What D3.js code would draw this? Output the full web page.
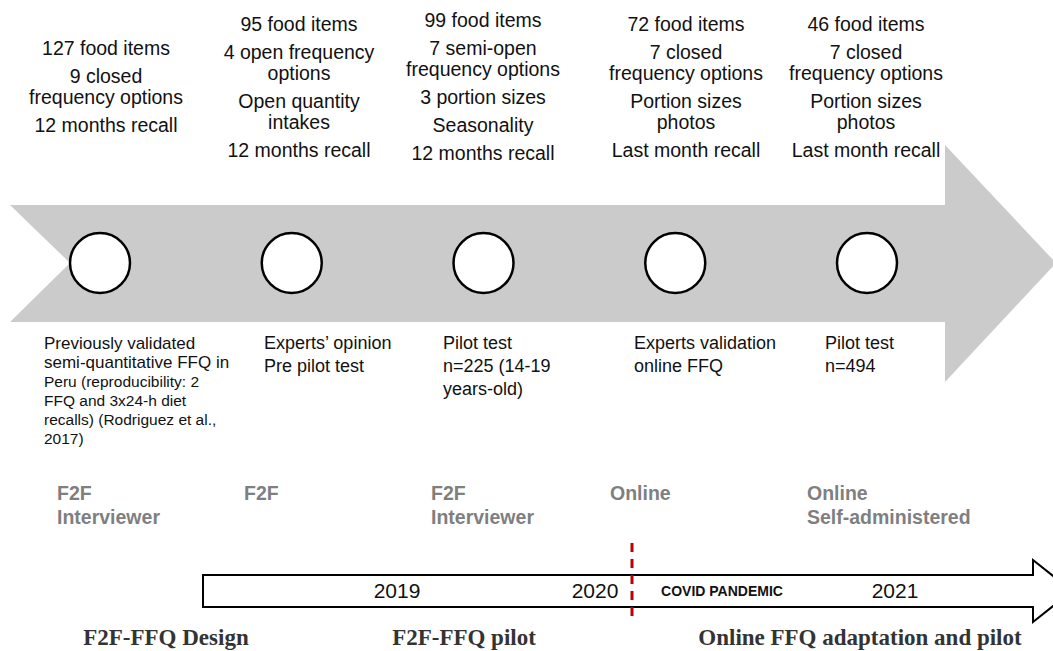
<!DOCTYPE html>
<html lang="en">
<head>
<meta charset="UTF-8">
<title>FFQ development timeline</title>
<script src="https://d3js.org/d3.v7.min.js"></script>
<style>
  body { margin: 0; background: #fff; }
  text { font-family: "Liberation Sans", Arial, sans-serif; }
</style>
</head>
<body>
<div id="chart"></div>
<script>
// ---- data ----
const stages = ["F2F design", "Expert review", "F2F pilot", "Online validation", "Online pilot"];

const topNotes = [
  [["127 food items"], ["9 closed", "frequency options"], ["12 months recall"]],
  [["95 food items"], ["4 open frequency", "options"], ["Open quantity", "intakes"], ["12 months recall"]],
  [["99 food items"], ["7 semi-open", "frequency options"], ["3 portion sizes"], ["Seasonality"], ["12 months recall"]],
  [["72 food items"], ["7 closed", "frequency options"], ["Portion sizes", "photos"], ["Last month recall"]],
  [["46 food items"], ["7 closed", "frequency options"], ["Portion sizes", "photos"], ["Last month recall"]]
];

const activities = [
  ["Previously validated", "semi-quantitative FFQ in", "Peru (reproducibility: 2", "FFQ and 3x24-h diet", "recalls) (Rodriguez et al.,", "2017)"],
  ["Experts\u2019 opinion", "Pre pilot test"],
  ["Pilot test", "n=225 (14-19", "years-old)"],
  ["Experts validation", "online FFQ"],
  ["Pilot test", "n=494"]
];

const modes = [
  ["F2F", "Interviewer"],
  ["F2F"],
  ["F2F", "Interviewer"],
  ["Online"],
  ["Online", "Self-administered"]
];

const timeLabels = ["2019", "2020", "COVID PANDEMIC", "2021"];
const phases = ["F2F-FFQ Design", "F2F-FFQ pilot", "Online FFQ adaptation and pilot"];

// ---- layout ----
const W = 1053, H = 651;
const svg = d3.select("#chart").append("svg")
  .attr("width", W).attr("height", H);

const x = d3.scalePoint().domain(stages).range([100, 867]);
const noteX = d3.scaleOrdinal().domain(stages).range([106, 299, 483, 686, 866]);
const noteTop = d3.scaleOrdinal().domain(stages).range([48, 24, 20, 24, 24]);
const actX = d3.scaleOrdinal().domain(stages).range([44, 264, 443, 634, 825]);
const modeX = d3.scaleOrdinal().domain(stages).range([57, 244, 431, 610, 807]);
const timeX = d3.scaleOrdinal().domain(timeLabels).range([397, 595, 722, 895]);
const phaseX = d3.scaleOrdinal().domain(phases).range([166, 464, 860]);

const midY = 263;

// big grey arrow
const bodyTop = 205, bodyBot = 322, headTop = 145, headBot = 382, headX = 945;
svg.append("path")
  .attr("d", d3.line()([
    [10, bodyTop], [headX, bodyTop], [headX, headTop], [1056, midY],
    [headX, headBot], [headX, bodyBot], [10, bodyBot], [70, midY]
  ]) + "Z")
  .attr("fill", "#cbcbcb");

// circles
svg.selectAll("circle.stage")
  .data(stages)
  .join("circle")
  .attr("class", "stage")
  .attr("cx", d => x(d))
  .attr("cy", midY)
  .attr("r", 30)
  .attr("fill", "#fff")
  .attr("stroke", "#000")
  .attr("stroke-width", 2.5);

// notes above
stages.forEach((s, i) => {
  let y = noteTop(s);
  const g = svg.append("g");
  topNotes[i].forEach((para, pi) => {
    if (pi > 0) y += 28;
    para.forEach((line, li) => {
      if (li > 0) y += 21;
      g.append("text")
        .attr("x", noteX(s))
        .attr("y", y)
        .attr("dy", "0.35em")
        .attr("text-anchor", "middle")
        .attr("font-size", 19.5)
        .attr("fill", "#111")
        .text(line);
    });
  });
});

// activities below (first block mixes two sizes)
stages.forEach((s, i) => {
  const first = i === 0;
  const lh = first ? 19.2 : 23;
  svg.append("g")
    .selectAll("text")
    .data(activities[i])
    .join("text")
    .attr("x", actX(s))
    .attr("y", (d, j) => 343 + j * lh)
    .attr("dy", "0.35em")
    .attr("font-size", (d, j) => !first ? 18 : (j < 2 ? 17 : 15.5))
    .attr("fill", "#111")
    .text(d => d);
});

// modes
stages.forEach((s, i) => {
  svg.append("g")
    .selectAll("text")
    .data(modes[i])
    .join("text")
    .attr("x", modeX(s))
    .attr("y", (d, j) => 493 + j * 24)
    .attr("dy", "0.35em")
    .attr("font-size", 19.5)
    .attr("font-weight", "bold")
    .attr("fill", "#7f7f7f")
    .text(d => d);
});

// timeline arrow
const tTop = 575, tBot = 607, tHeadTop = 560, tHeadBot = 622, tHeadX = 1033, tMid = 591;
svg.append("path")
  .attr("d", d3.line()([
    [203, tTop], [tHeadX, tTop], [tHeadX, tHeadTop], [1072, tMid],
    [tHeadX, tHeadBot], [tHeadX, tBot], [203, tBot]
  ]) + "Z")
  .attr("fill", "#fff")
  .attr("stroke", "#000")
  .attr("stroke-width", 2);

// covid divider
svg.append("line")
  .attr("x1", 632).attr("x2", 632)
  .attr("y1", 543).attr("y2", 623)
  .attr("stroke", "#c00000")
  .attr("stroke-width", 3)
  .attr("stroke-dasharray", "9,7");

svg.append("g")
  .selectAll("text")
  .data(timeLabels)
  .join("text")
  .attr("x", d => timeX(d))
  .attr("y", tMid)
  .attr("dy", "0.35em")
  .attr("text-anchor", "middle")
  .attr("font-size", d => d === "COVID PANDEMIC" ? 14 : 21)
  .attr("font-weight", d => d === "COVID PANDEMIC" ? "bold" : "normal")
  .attr("fill", "#111")
  .text(d => d);

// phases
svg.append("g")
  .selectAll("text")
  .data(phases)
  .join("text")
  .attr("x", d => phaseX(d))
  .attr("y", 637)
  .attr("dy", "0.35em")
  .attr("text-anchor", "middle")
  .attr("font-size", 23)
  .attr("font-weight", "bold")
  .style("font-family", "'Liberation Serif', 'DejaVu Serif', serif")
  .attr("fill", "#333")
  .text(d => d);
</script>
</body>
</html>
